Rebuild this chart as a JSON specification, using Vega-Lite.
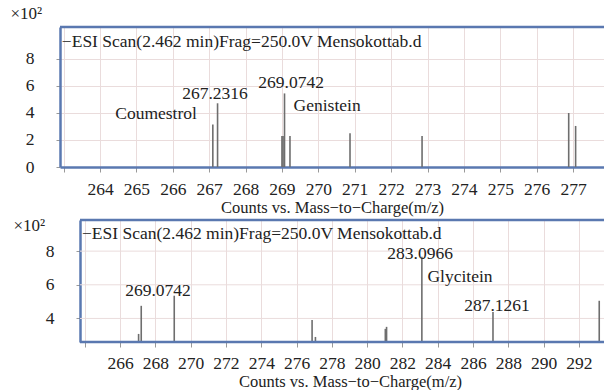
{
  "$schema": "https://vega.github.io/schema/vega-lite/v6.json",
  "padding": {"left": 10, "top": 4, "right": 0, "bottom": 0},
  "spacing": 0,
  "bounds": "full",
  "background": "white",
  "config": {
    "view": {"stroke": null},
    "font": "Liberation Serif",
    "text": {"font": "Liberation Serif"},
    "axis": {
      "labelOverlap": false,
      "gridColor": "#eadcdc", "gridWidth": 1,
      "domainColor": "#5a78b0", "domainWidth": 2.5,
      "tickColor": "#999999", "tickWidth": 1,
      "labelFont": "Liberation Serif", "labelFontSize": 17.5, "labelColor": "#222222",
      "titleFont": "Liberation Serif", "titleFontWeight": "normal", "titleColor": "#222222"
    }
  },
  "datasets": {
    "peaks1": [
      {"mz": 267.10, "intensity": 3.15},
      {"mz": 267.23, "intensity": 4.72},
      {"mz": 269.00, "intensity": 2.3},
      {"mz": 269.03, "intensity": 2.3},
      {"mz": 269.07, "intensity": 5.45},
      {"mz": 269.22, "intensity": 2.3},
      {"mz": 270.87, "intensity": 2.5},
      {"mz": 272.85, "intensity": 2.3},
      {"mz": 276.88, "intensity": 4.0},
      {"mz": 277.07, "intensity": 3.04}
    ],
    "labels1": [
      {"mz": 267.16, "intensity": 5.4, "label": "267.2316"},
      {"mz": 269.25, "intensity": 6.2, "label": "269.0742"},
      {"mz": 265.54, "intensity": 3.9, "label": "Coumestrol"},
      {"mz": 270.24, "intensity": 4.5, "label": "Genistein"}
    ],
    "header1": [
      {"mz": 262.95, "intensity": 9.26, "label": "−ESI Scan(2.462 min)Frag=250.0V Mensokottab.d"}
    ],
    "peaks2": [
      {"mz": 267.05, "intensity": 3.08},
      {"mz": 267.2, "intensity": 4.75},
      {"mz": 269.07, "intensity": 5.35},
      {"mz": 276.88, "intensity": 3.91},
      {"mz": 277.07, "intensity": 2.9},
      {"mz": 281.03, "intensity": 3.38},
      {"mz": 281.1, "intensity": 3.5},
      {"mz": 283.1, "intensity": 7.67},
      {"mz": 287.13, "intensity": 4.39},
      {"mz": 293.15, "intensity": 5.05}
    ],
    "labels2": [
      {"mz": 268.15, "intensity": 5.62, "label": "269.0742"},
      {"mz": 283.0, "intensity": 7.85, "label": "283.0966"},
      {"mz": 285.26, "intensity": 6.48, "label": "Glycitein"},
      {"mz": 287.36, "intensity": 4.75, "label": "287.1261"}
    ],
    "header2": [
      {"mz": 263.84, "intensity": 8.99, "label": "−ESI Scan(2.462 min)Frag=250.0V Mensokottab.d"}
    ],
    "grid2": [{"mz": 263.73, "mz2": 293.42, "intensity": 4}, {"mz": 263.73, "mz2": 293.42, "intensity": 6}, {"mz": 263.73, "mz2": 293.42, "intensity": 8}],
    "frame2": [{"mz": 263.73, "mz2": 293.42, "intensity": 2.6}, {"mz": 263.73, "mz2": 293.42, "intensity": 9.85}],
    "top1": [{"mz": 262.9, "mz2": 277.85, "intensity": 10.37}]
  },
  "vconcat": [
    {
      "width": 544,
      "height": 140,
      "encoding": {
        "x": {
          "field": "mz", "type": "quantitative",
          "scale": {"domain": [262.9, 277.85], "nice": false, "zero": false},
          "axis": {
            "values": [263, 264, 265, 266, 267, 268, 269, 270, 271, 272, 273, 274, 275, 276, 277],
            "labelExpr": "datum.value == 263 ? '' : datum.label",
            "format": "d",
            "labelOverlap": false,
            "grid": true, "domain": true, "ticks": true,
            "tickSize": 5,
            "labelPadding": 8,
            "title": "Counts vs. Mass−to−Charge(m/z)",
            "titleFontSize": 16.5,
            "titlePadding": 2
          }
        },
        "y": {
          "field": "intensity", "type": "quantitative",
          "scale": {"domain": [0, 10.37], "nice": false},
          "axis": {
            "values": [0, 2, 4, 6, 8],
            "labelOverlap": false,
            "grid": true, "domain": true, "ticks": true,
            "tickSize": 4,
            "labelPadding": 22,
            "title": "×10²",
            "titleFontSize": 17,
            "titleAngle": 0, "titleAlign": "left", "titleBaseline": "middle",
            "titleX": -50, "titleY": -14
          }
        }
      },
      "layer": [
        {
          "data": {"name": "peaks1"},
          "mark": {"type": "rule", "color": "#6e6e6e", "strokeWidth": 1.6},
          "encoding": {"y2": {"datum": 0}}
        },
        {
          "data": {"name": "labels1"},
          "mark": {"type": "text", "font": "Liberation Serif", "fontSize": 17.5, "color": "#222222", "align": "center", "baseline": "middle"},
          "encoding": {"text": {"field": "label"}}
        },
        {
          "data": {"name": "header1"},
          "mark": {"type": "text", "font": "Liberation Serif", "fontSize": 17.5, "color": "#222222", "align": "left", "baseline": "middle"},
          "encoding": {"text": {"field": "label"}}
        },
        {
          "data": {"name": "top1"},
          "mark": {"type": "rule", "color": "#5a78b0", "strokeWidth": 2.5},
          "encoding": {"x2": {"field": "mz2"}}
        }
      ]
    },
    {
      "width": 544,
      "height": 122,
      "encoding": {
        "x": {
          "field": "mz", "type": "quantitative",
          "scale": {"domain": [262.597, 293.42], "nice": false, "zero": false},
          "axis": {
            "values": [264, 266, 268, 270, 272, 274, 276, 278, 280, 282, 284, 286, 288, 290, 292],
            "labelExpr": "datum.value == 264 ? '' : datum.label",
            "format": "d",
            "labelOverlap": false,
            "grid": true, "domain": false, "ticks": true,
            "tickSize": 5,
            "labelPadding": 7,
            "title": "Counts vs. Mass−to−Charge(m/z)",
            "titleFontSize": 16.5,
            "titlePadding": 2,
            "titleX": 290
          }
        },
        "y": {
          "field": "intensity", "type": "quantitative",
          "scale": {"domain": [2.6, 9.85], "nice": false, "zero": false},
          "axis": {
            "values": [4, 6, 8],
            "offset": -20,
            "labelOverlap": false,
            "grid": false, "domain": true, "ticks": true,
            "tickSize": 4,
            "labelPadding": 22,
            "title": "×10²",
            "titleFontSize": 17,
            "titleAngle": 0, "titleAlign": "left", "titleBaseline": "middle",
            "titleX": -67, "titleY": 5
          }
        }
      },
      "layer": [
        {
          "data": {"name": "grid2"},
          "mark": {"type": "rule", "color": "#eadcdc", "strokeWidth": 1},
          "encoding": {"x2": {"field": "mz2"}}
        },
        {
          "data": {"name": "peaks2"},
          "mark": {"type": "rule", "color": "#6e6e6e", "strokeWidth": 1.6},
          "encoding": {"y2": {"datum": 2.6}}
        },
        {
          "data": {"name": "labels2"},
          "mark": {"type": "text", "font": "Liberation Serif", "fontSize": 17.5, "color": "#222222", "align": "center", "baseline": "middle"},
          "encoding": {"text": {"field": "label"}}
        },
        {
          "data": {"name": "header2"},
          "mark": {"type": "text", "font": "Liberation Serif", "fontSize": 17.5, "color": "#222222", "align": "left", "baseline": "middle"},
          "encoding": {"text": {"field": "label"}}
        },
        {
          "data": {"name": "frame2"},
          "mark": {"type": "rule", "color": "#5a78b0", "strokeWidth": 2.5},
          "encoding": {"x2": {"field": "mz2"}}
        }
      ]
    }
  ]
}
